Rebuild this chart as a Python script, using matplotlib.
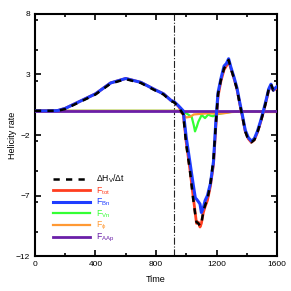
import numpy as np
import matplotlib
matplotlib.use('Agg')
import matplotlib.pyplot as plt
from matplotlib.ticker import MultipleLocator

plt.rcParams['font.family'] = ['Liberation Sans', 'DejaVu Sans']
plt.rcParams['mathtext.fontset'] = 'custom'
plt.rcParams['mathtext.rm'] = 'Liberation Sans'
plt.rcParams['mathtext.it'] = 'Liberation Sans'

# time grid for the main curves
t = [0, 100, 150, 200, 300, 400, 500, 600, 700, 800, 850, 900, 920, 950, 980,
     1000, 1025, 1045, 1060, 1068, 1080, 1091, 1100, 1113, 1125, 1140, 1160, 1180,
     1195, 1210, 1230, 1250, 1265, 1280, 1295, 1315, 1335, 1355, 1370, 1390, 1410,
     1430, 1450, 1470, 1490, 1510, 1530, 1545, 1560, 1575, 1590, 1600]

f_bn = [0, 0, 0.02, 0.2, 0.8, 1.4, 2.3, 2.67, 2.35, 1.7, 1.4, 0.85, 0.75, 0.4, 0.0,
        -2.2, -4.3, -6.0, -7.2, -7.3, -7.5, -7.7, -8.4, -8.0, -7.4, -7.0, -6.0, -4.2,
        -1.0, 1.5, 2.7, 3.7, 3.9, 4.3, 3.6, 2.8, 1.9, 0.6, -0.3, -1.6, -2.2,
        -2.5, -2.3, -1.7, -0.9, 0.0, 1.0, 1.8, 2.2, 1.7, 1.9, 2.0]

f_tot = [0, 0, 0.02, 0.2, 0.8, 1.4, 2.3, 2.67, 2.35, 1.7, 1.4, 0.85, 0.75, 0.35, -0.2,
         -2.6, -4.9, -7.0, -8.5, -9.3, -9.2, -9.6, -9.3, -8.4, -7.9, -7.4, -6.2, -4.4,
         -1.4, 1.2, 2.5, 3.4, 3.7, 4.1, 3.5, 2.7, 1.8, 0.5, -0.4, -1.7, -2.3,
         -2.6, -2.4, -1.8, -1.0, -0.1, 0.9, 1.7, 2.1, 1.7, 1.8, 1.9]

dh_dt = [0, 0, 0.0, 0.15, 0.75, 1.35, 2.25, 2.62, 2.3, 1.65, 1.35, 0.8, 0.7, 0.3, -0.3,
         -2.8, -5.0, -7.2, -8.6, -9.2, -9.3, -9.5, -9.3, -8.3, -7.8, -7.3, -6.0, -4.0,
         -1.2, 1.4, 2.6, 3.5, 3.8, 4.2, 3.5, 2.7, 1.8, 0.5, -0.4, -1.7, -2.4,
         -2.6, -2.4, -1.8, -1.0, -0.1, 0.9, 1.8, 2.2, 1.7, 1.9, 2.0]

t_vn = [0, 950, 980, 1000, 1036, 1050, 1058, 1070, 1080, 1102, 1124, 1146, 1160,
        1177, 1200, 1236, 1290, 1350, 1450, 1580]
f_vn = [0, 0, -0.1, -0.2, -0.5, -1.2, -1.7, -1.3, -0.9, -0.35, -0.6, -0.3, -0.4,
        -0.45, -0.3, -0.2, -0.1, -0.05, -0.05, -0.05]

t_phi = [0, 950, 980, 1000, 1025, 1050, 1100, 1150, 1200, 1250, 1300, 1400, 1500, 1600]
f_phi = [0, 0, -0.3, -0.55, -0.5, -0.3, -0.25, -0.2, -0.25, -0.2, -0.1, -0.05, -0.1, -0.1]

t_aap = [0, 1600]
f_aap = [0, 0]

t_event = 920

fig = plt.figure(figsize=(2.91, 2.91), dpi=100)
ax = fig.add_axes([0.12, 0.12, 0.832, 0.832])

ax.plot(t_vn, f_vn, color='#33ff33', lw=1.6, label=r'$\mathrm{F}_{\mathrm{Vn}}$', zorder=2)
ax.plot(t_phi, f_phi, color='#ff9933', lw=1.6, label=r'$\mathrm{F}_{\phi}$', zorder=2)
ax.plot(t_aap, f_aap, color='#6a1fa8', lw=2, label=r'$\mathrm{F}_{\mathrm{AAp}}$', zorder=3)
ax.plot(t, f_tot, color='#ff3d1f', lw=2.0, label=r'$\mathrm{F}_{\mathrm{tot}}$', zorder=4)
ax.plot(t, f_bn, color='#1f3dff', lw=2.2, label=r'$\mathrm{F}_{\mathrm{Bn}}$', zorder=5)
ax.plot(t, dh_dt, color='black', lw=1.8, ls=(0, (2.5, 2.5)),
        label=r'$\Delta \mathrm{H}_{\mathrm{V}}/\Delta \mathrm{t}$', zorder=6)
ax.axvline(t_event, color='#222222', lw=0.8, ls='-.', zorder=1)

ax.set_xlim(0, 1600)
ax.set_ylim(-12, 8)
ax.xaxis.set_major_locator(MultipleLocator(400))
ax.xaxis.set_minor_locator(MultipleLocator(200))
ax.yaxis.set_major_locator(MultipleLocator(5))
ax.yaxis.set_minor_locator(MultipleLocator(2.5))
ax.set_yticks([-12, -7, -2, 3, 8])
ax.tick_params(which='both', direction='in', top=True, right=True, labelsize=6, width=1.2)
ax.tick_params(which='major', length=4)
ax.tick_params(which='minor', length=2)
for s in ax.spines.values():
    s.set_linewidth(1.5)

ax.set_xlabel('Time', fontsize=6.5, labelpad=5)
ax.set_ylabel('Helicity rate', fontsize=6.5, labelpad=-1)

h, l = ax.get_legend_handles_labels()
order = [5, 3, 4, 0, 1, 2]
leg = ax.legend([h[i] for i in order], [l[i] for i in order], loc='lower left',
                bbox_to_anchor=(0.06, 0.035), frameon=False, fontsize=6.2,
                handlelength=4.3, labelspacing=0.0, handletextpad=0.65,
                labelcolor='linecolor', borderaxespad=0)

fig.savefig('out.png', dpi=100)
